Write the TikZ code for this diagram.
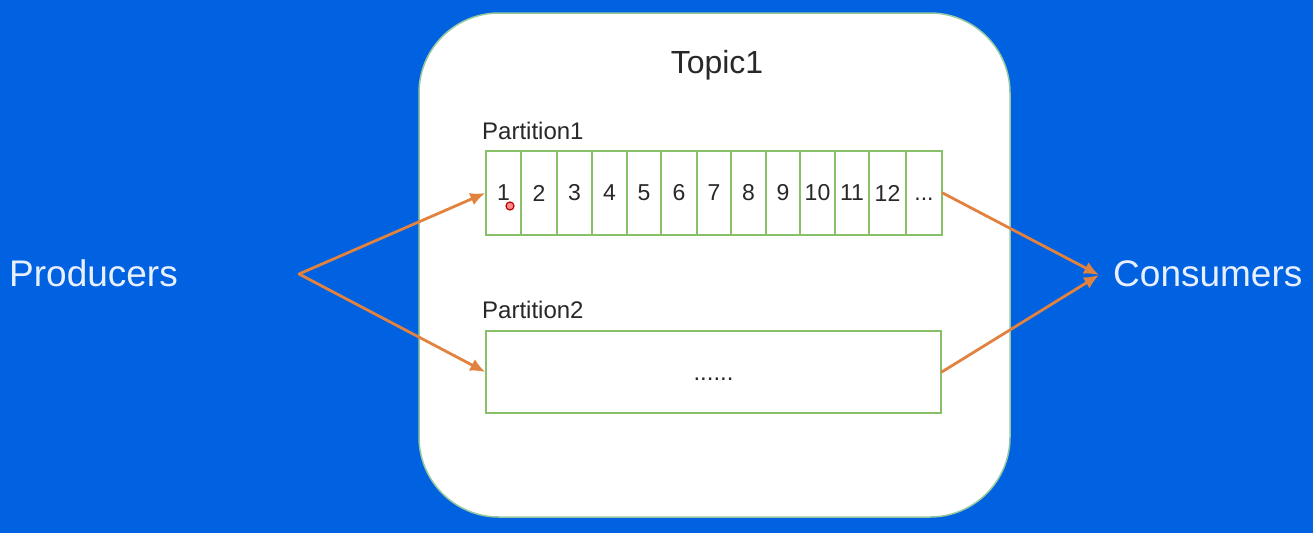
\documentclass[tikz,border=0pt]{standalone}
\usepackage{fontspec}
\setmainfont{Liberation Sans}
\usetikzlibrary{arrows.meta}
\definecolor{bg}{RGB}{0,98,224}
\definecolor{cellgreen}{RGB}{135,192,105}
\definecolor{arr}{RGB}{226,130,62}
\definecolor{topicedge}{RGB}{150,200,160}
\definecolor{txtdark}{RGB}{40,40,40}
\definecolor{txtlight}{RGB}{232,240,255}
\begin{document}
\begin{tikzpicture}[x=1pt,y=-1pt,
  cell/.style={draw=cellgreen, line width=1.4pt, fill=white, inner sep=0pt,
    minimum height=84pt, text=txtdark, font=\fontsize{23}{23}\selectfont},
  flow/.style={draw=arr, line width=2.8pt, line cap=round,
    -{Latex[length=15pt,width=13pt]}},
  side/.style={text=txtlight, font=\fontsize{37}{37}\selectfont, inner sep=0pt},
  plabel/.style={text=txtdark, font=\fontsize{24}{24}\selectfont, inner sep=0pt, anchor=base west}]
\fill[bg] (0,0) rectangle (1313,533);
\useasboundingbox (0,0) rectangle (1313,533);
% topic container
\draw[topicedge, line width=1.5pt, fill=white, rounded corners=80pt] (419,13) rectangle (1010,517);
\node[text=txtdark, font=\fontsize{32}{32}\selectfont, inner sep=0pt, anchor=base] (topic) at (717,73) {Topic1};
% partition 1
\node[plabel] (p1label) at (482,139) {Partition1};
\foreach \a/\b/\t [count=\i] in {486/521/1, 521/557/2, 557/592/3, 592/627/4, 627/661/5, 661/697/6, 697/731/7, 731/766/8, 766/800/9, 800/835/10, 835/869/11, 869/906/12, 906/942/{...}}
  \node[cell, minimum width={(\b-\a)*1pt}] (c\i) at ({(\a+\b)/2},193) {\vphantom{1}\t};
% partition 2
\node[plabel] (p2label) at (482,318) {Partition2};
\node[cell, minimum width=455pt, minimum height=82pt, font=\fontsize{24}{24}\selectfont] (p2) at (713.5,372) {\vphantom{1}......};
% cursor mark
\node[circle, draw=red!75!black, fill=red!45!white, line width=1.2pt, minimum size=8pt, inner sep=0pt] (cursor) at (510,206) {};
% producers / consumers
\node[side, anchor=base west] (prod) at (9,286) {Producers};
\node[side, anchor=base west] (cons) at (1113,286) {Consumers};
\coordinate (pb) at (299,274);
\coordinate (cb) at (1099,275);
\draw[flow] (pb) -- (c1.west);
\draw[flow] (pb) -- (p2.west);
\draw[flow] (c13.east) -- (cb);
\draw[flow] (p2.east) -- (cb);
\end{tikzpicture}
\end{document}
